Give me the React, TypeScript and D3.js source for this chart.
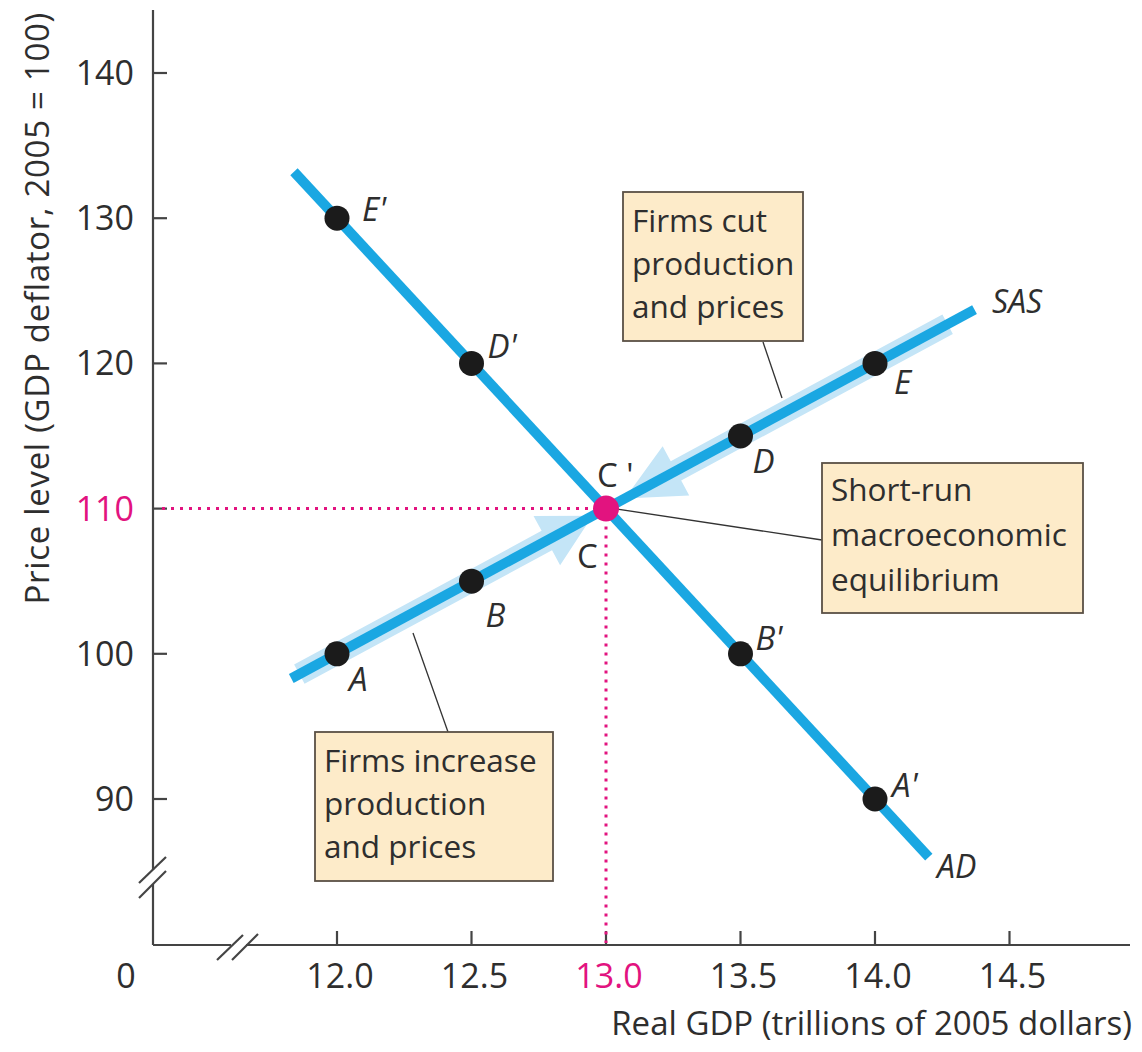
import React from 'react';
import * as d3 from 'd3';

// ---- data ----
const xTicks = [12.0, 12.5, 13.0, 13.5, 14.0, 14.5];
const yTicks = [90, 100, 110, 120, 130, 140];
const highlightX = 13.0;
const highlightY = 110;
const sasPoints = [
  { label: 'A', x: 12.0, y: 100 },
  { label: 'B', x: 12.5, y: 105 },
  { label: 'D', x: 13.5, y: 115 },
  { label: 'E', x: 14.0, y: 120 },
];
const adPoints = [
  { label: "E'", x: 12.0, y: 130 },
  { label: "D'", x: 12.5, y: 120 },
  { label: "B'", x: 13.5, y: 100 },
  { label: "A'", x: 14.0, y: 90 },
];
const equilibrium = { x: 13.0, y: 110 };
const sasLine: [number, number][] = [[11.83, 98.3], [14.37, 123.7]];
const adLine: [number, number][] = [[11.84, 133.2], [14.2, 86.0]];
// movement bands along SAS: [start x, arrow base x, tip x]
const bandUp = [11.86, 12.78, 12.95];
const bandDown = [14.27, 13.26, 13.07];
const sasAt = (x: number) => 100 + (x - 12) * 10;

// label offsets (px) relative to points
const labelOffsets: Record<string, [number, number]> = {
  "E'": [25, 3], "D'": [16, -5], "B'": [15, -4], "A'": [17, -2],
  A: [12, 37], B: [14, 46], D: [12, 37], E: [19, 31],
};

const BLUE = '#1aa7e2';
const LIGHT = '#c4e5f7';
const MAG = '#e2137f';
const TXT = '#2e2e2e';
const FONT = '"Open Sans", "DejaVu Sans", sans-serif';

export default function App() {
  const x = d3.scaleLinear().domain([12, 14]).range([337, 875]);
  const y = d3.scaleLinear().domain([90, 140]).range([799, 73]);
  const line = d3.line<[number, number]>().x(d => x(d[0])).y(d => y(d[1]));

  const axisX = 153;
  const axisY = 945;

  const bandPoly = (b: number[]) => {
    const [s, base, tip] = b;
    const p0 = [x(s), y(sasAt(s))];
    const pb = [x(base), y(sasAt(base))];
    const pt = [x(tip), y(sasAt(tip))];
    const dx = pt[0] - p0[0], dy = pt[1] - p0[1];
    const len = Math.hypot(dx, dy);
    const nx = -dy / len, ny = dx / len;
    const hw = 11, aw = 28;
    const pts = [
      [p0[0] + nx * hw, p0[1] + ny * hw],
      [pb[0] + nx * hw, pb[1] + ny * hw],
      [pb[0] + nx * aw, pb[1] + ny * aw],
      [pt[0], pt[1]],
      [pb[0] - nx * aw, pb[1] - ny * aw],
      [pb[0] - nx * hw, pb[1] - ny * hw],
      [p0[0] - nx * hw, p0[1] - ny * hw],
    ];
    return pts.map(p => p.join(',')).join(' ');
  };

  const boxes = [
    { x: 623, y: 192, w: 180, h: 149, lines: ['Firms cut', 'production', 'and prices'], base: 232, step: 43 },
    { x: 822, y: 463, w: 261, h: 150, lines: ['Short-run', 'macroeconomic', 'equilibrium'], base: 501, step: 45 },
    { x: 315, y: 732, w: 238, h: 149, lines: ['Firms increase', 'production', 'and prices'], base: 772, step: 43 },
  ];

  const cx = x(equilibrium.x), cy = y(equilibrium.y);

  return (
    <svg width={1142} height={1052} style={{ position: 'absolute', left: 0, top: 0, background: '#fff' }}
      fontFamily={FONT}>
      <rect width={1142} height={1052} fill="#fff" />
      {/* axes */}
      <g stroke="#444" strokeWidth={2.2} fill="none">
        <line x1={axisX} y1={10} x2={axisX} y2={870} />
        <line x1={axisX} y1={884} x2={axisX} y2={axisY} />
        <line x1={axisX} y1={axisY} x2={231} y2={axisY} />
        <line x1={246} y1={axisY} x2={1130} y2={axisY} />
        <line x1={139} y1={883} x2={166} y2={857} />
        <line x1={139} y1={898} x2={166} y2={871} />
        <line x1={217} y1={960} x2={243} y2={935} />
        <line x1={232} y1={960} x2={258} y2={934} />
        {yTicks.map(t => <line key={t} x1={axisX} x2={axisX + 14} y1={y(t)} y2={y(t)} />)}
        {xTicks.map(t => <line key={t} x1={x(t)} x2={x(t)} y1={axisY} y2={axisY - 14} />)}
      </g>
      {/* tick labels */}
      <g fontSize={34} fill={TXT}>
        {yTicks.map(t => (
          <text key={t} x={134} y={y(t) + 12} textAnchor="end" fill={t === highlightY ? MAG : TXT}>{t}</text>
        ))}
        {xTicks.map(t => (
          <text key={t} x={x(t) + 3} y={988} textAnchor="middle" fill={t === highlightX ? MAG : TXT}>{t.toFixed(1)}</text>
        ))}
        <text x={126} y={988} textAnchor="middle">0</text>
      </g>
      <text x={1132} y={1035} textAnchor="end" fontSize={33} fill={TXT}>Real GDP (trillions of 2005 dollars)</text>
      <text transform="translate(49,12) rotate(-90)" textAnchor="end" fontSize={33} letterSpacing={0.7} fill={TXT}>Price level (GDP deflator, 2005 = 100)</text>

      {/* dotted guides */}
      <g stroke={MAG} strokeWidth={3} strokeDasharray="3 6" fill="none">
        <line x1={162} y1={cy} x2={cx} y2={cy} />
        <line x1={cx} y1={cy} x2={cx} y2={axisY - 2} />
      </g>

      {/* movement bands */}
      <polygon points={bandPoly(bandUp)} fill={LIGHT} />
      <polygon points={bandPoly(bandDown)} fill={LIGHT} />

      {/* curves */}
      <path d={line(sasLine) || ''} stroke={BLUE} strokeWidth={10} fill="none" />
      <path d={line(adLine) || ''} stroke={BLUE} strokeWidth={10} fill="none" />

      {/* leader lines */}
      <g stroke="#333" strokeWidth={1.3}>
        <line x1={763} y1={342} x2={782} y2={398} />
        <line x1={cx + 8} y1={cy} x2={822} y2={540} />
        <line x1={413} y1={633} x2={448} y2={732} />
      </g>

      {/* boxes */}
      {boxes.map((b, i) => (
        <g key={i}>
          <rect x={b.x} y={b.y} width={b.w} height={b.h} fill="#fdebc9" stroke="#5a5045" strokeWidth={1.8} />
          {b.lines.map((l, j) => (
            <text key={j} x={b.x + 9} y={b.base + j * b.step} fontSize={31.5} fill={TXT}>{l}</text>
          ))}
        </g>
      ))}

      {/* points */}
      {[...sasPoints, ...adPoints].map(p => (
        <g key={p.label}>
          <circle cx={x(p.x)} cy={y(p.y)} r={12.5} fill="#1b1b1b" />
          <text x={x(p.x) + labelOffsets[p.label][0]} y={y(p.y) + labelOffsets[p.label][1]}
            fontSize={33} fontStyle="italic" fill={TXT}>{p.label}</text>
        </g>
      ))}
      <circle cx={cx} cy={cy} r={13} fill={MAG} />
      <text x={cx - 9} y={cy - 22} fontSize={33} fill={TXT}>C '</text>
      <text x={cx - 29} y={cy + 59} fontSize={33} fill={TXT}>C</text>
      <text x={992} y={313} fontSize={32} fontStyle="italic" fill={TXT}>SAS</text>
      <text x={937} y={878} fontSize={32} fontStyle="italic" fill={TXT}>AD</text>
    </svg>
  );
}
